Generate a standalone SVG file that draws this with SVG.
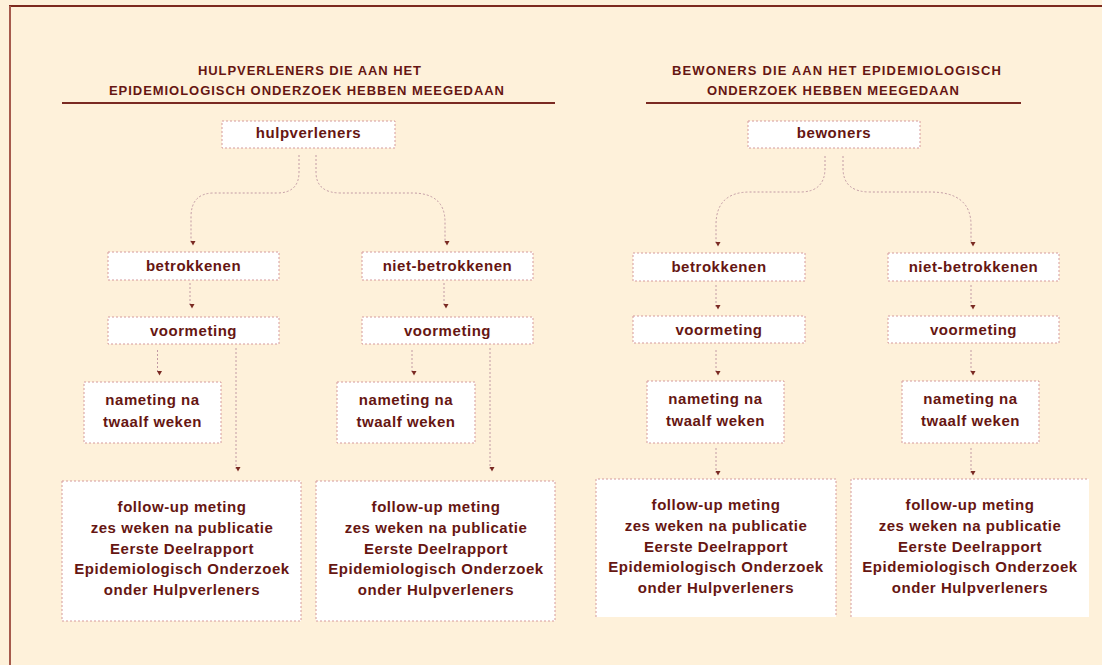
<svg xmlns="http://www.w3.org/2000/svg" width="1102" height="665" viewBox="0 0 1102 665">
<defs>
<style>
.box{fill:#ffffff;stroke:#d59a9c;stroke-width:1;stroke-dasharray:2 2}
.edge{fill:none;stroke:#c29aa4;stroke-width:1;stroke-dasharray:2 2}
.t{font-family:"Liberation Sans",Arial,sans-serif;font-weight:bold;font-size:15px;fill:#661612;text-anchor:middle;letter-spacing:0.55px}
.h{font-family:"Liberation Sans",Arial,sans-serif;font-weight:bold;font-size:13px;fill:#661612}
.rule{stroke:#7a2a22;stroke-width:2}
</style>
<marker id="arr" markerWidth="6" markerHeight="6" refX="3" refY="5" orient="auto" markerUnits="userSpaceOnUse" viewBox="0 0 6 6">
<path d="M0.5,1 L5.5,1 L3,5.5 Z" fill="#7a2a22" transform="rotate(-90 3 3)"/>
</marker>
</defs>
<rect x="0" y="0" width="1102" height="665" fill="#fef1da"/>
<line x1="9" y1="6" x2="1102" y2="6" stroke="#7d2a1e" stroke-width="2"/>
<line x1="10" y1="6" x2="10" y2="665" stroke="#a65a4c" stroke-width="2"/>

<g id="titles">
<text class="h" x="198" y="75" textLength="223" lengthAdjust="spacing">HULPVERLENERS DIE AAN HET</text>
<text class="h" x="109" y="95" textLength="395" lengthAdjust="spacing">EPIDEMIOLOGISCH ONDERZOEK HEBBEN MEEGEDAAN</text>
<line class="rule" x1="62" y1="103" x2="555" y2="103"/>
<text class="h" x="672" y="75" textLength="329" lengthAdjust="spacing">BEWONERS DIE AAN HET EPIDEMIOLOGISCH</text>
<text class="h" x="707" y="95" textLength="252" lengthAdjust="spacing">ONDERZOEK HEBBEN MEEGEDAAN</text>
<line class="rule" x1="646" y1="103" x2="1021" y2="103"/>
</g>

<g id="connectors">
<path class="edge" d="M299,155 L299,172 Q299,193 277,193 L214,193 Q191,193 191,217 L191,243" marker-end="url(#arr)"/>
<path class="edge" d="M316,155 L316,172 Q316,193 341,193 L412,193 Q445,193 445,222 L445,243" marker-end="url(#arr)"/>
<path class="edge" d="M190,283 L190,306" marker-end="url(#arr)"/>
<path class="edge" d="M444,283 L444,306" marker-end="url(#arr)"/>
<path class="edge" d="M157.5,350 L157.5,373" marker-end="url(#arr)"/>
<path class="edge" d="M412,350 L412,373" marker-end="url(#arr)"/>
<path class="edge" d="M236,348 L236,469" marker-end="url(#arr)"/>
<path class="edge" d="M490,348 L490,469" marker-end="url(#arr)"/>
<path class="edge" d="M825,156 L825,168 Q825,192 800,192 L750,192 Q716,192 716,225 L716,244" marker-end="url(#arr)"/>
<path class="edge" d="M843,156 L843,168 Q843,192 870,192 L930,192 Q971,192 971,225 L971,244" marker-end="url(#arr)"/>
<path class="edge" d="M716,285 L716,307" marker-end="url(#arr)"/>
<path class="edge" d="M971,285 L971,307" marker-end="url(#arr)"/>
<path class="edge" d="M716,350 L716,373" marker-end="url(#arr)"/>
<path class="edge" d="M971,350 L971,373" marker-end="url(#arr)"/>
<path class="edge" d="M716,448 L716,473" marker-end="url(#arr)"/>
<path class="edge" d="M971,448 L971,473" marker-end="url(#arr)"/>
</g>

<g id="n-hulpverleners"><rect class="box" x="222" y="121" width="173" height="27"/><text class="t" x="308.5" y="138">hulpverleners</text></g>
<g id="n-l-betrokkenen"><rect class="box" x="108" y="252" width="171" height="28"/><text class="t" x="193.5" y="271">betrokkenen</text></g>
<g id="n-l-niet"><rect class="box" x="362" y="252" width="171" height="28"/><text class="t" x="447.5" y="271">niet-betrokkenen</text></g>
<g id="n-l-voor1"><rect class="box" x="108" y="317" width="171" height="27"/><text class="t" x="193.5" y="336">voormeting</text></g>
<g id="n-l-voor2"><rect class="box" x="362" y="317" width="171" height="27"/><text class="t" x="447.5" y="336">voormeting</text></g>
<g id="n-l-na1"><rect class="box" x="84" y="382" width="137" height="61"/><text class="t" x="152.5" y="405">nameting na</text><text class="t" x="152.5" y="427">twaalf weken</text></g>
<g id="n-l-na2"><rect class="box" x="337" y="382" width="138" height="61"/><text class="t" x="406" y="405">nameting na</text><text class="t" x="406" y="427">twaalf weken</text></g>
<g id="n-l-fu1"><rect class="box" x="62" y="481" width="239" height="140"/>
<text class="t" x="182" y="512">follow-up meting</text><text class="t" x="182" y="533">zes weken na publicatie</text><text class="t" x="182" y="554">Eerste Deelrapport</text><text class="t" x="182" y="574">Epidemiologisch Onderzoek</text><text class="t" x="182" y="595">onder Hulpverleners</text></g>
<g id="n-l-fu2"><rect class="box" x="316" y="481" width="239" height="140"/>
<text class="t" x="436" y="512">follow-up meting</text><text class="t" x="436" y="533">zes weken na publicatie</text><text class="t" x="436" y="554">Eerste Deelrapport</text><text class="t" x="436" y="574">Epidemiologisch Onderzoek</text><text class="t" x="436" y="595">onder Hulpverleners</text></g>

<g id="n-bewoners"><rect class="box" x="748" y="121" width="172" height="27"/><text class="t" x="834" y="138">bewoners</text></g>
<g id="n-r-betrokkenen"><rect class="box" x="633" y="253" width="172" height="28"/><text class="t" x="719" y="272">betrokkenen</text></g>
<g id="n-r-niet"><rect class="box" x="888" y="253" width="171" height="28"/><text class="t" x="973.5" y="272">niet-betrokkenen</text></g>
<g id="n-r-voor1"><rect class="box" x="633" y="316" width="172" height="27"/><text class="t" x="719" y="335">voormeting</text></g>
<g id="n-r-voor2"><rect class="box" x="888" y="316" width="171" height="27"/><text class="t" x="973.5" y="335">voormeting</text></g>
<g id="n-r-na1"><rect class="box" x="647" y="381" width="137" height="62"/><text class="t" x="715.5" y="404">nameting na</text><text class="t" x="715.5" y="426">twaalf weken</text></g>
<g id="n-r-na2"><rect class="box" x="902" y="381" width="137" height="62"/><text class="t" x="970.5" y="404">nameting na</text><text class="t" x="970.5" y="426">twaalf weken</text></g>
<g id="n-r-fu1"><rect x="596" y="479" width="240" height="138" fill="#ffffff"/><path class="box" d="M596,617 L596,479 L836,479 L836,617" fill="none"/>
<text class="t" x="716" y="510">follow-up meting</text><text class="t" x="716" y="531">zes weken na publicatie</text><text class="t" x="716" y="552">Eerste Deelrapport</text><text class="t" x="716" y="572">Epidemiologisch Onderzoek</text><text class="t" x="716" y="593">onder Hulpverleners</text></g>
<g id="n-r-fu2"><rect x="851" y="479" width="238" height="138" fill="#ffffff"/><path class="box" d="M851,617 L851,479 L1089,479" fill="none"/>
<text class="t" x="970" y="510">follow-up meting</text><text class="t" x="970" y="531">zes weken na publicatie</text><text class="t" x="970" y="552">Eerste Deelrapport</text><text class="t" x="970" y="572">Epidemiologisch Onderzoek</text><text class="t" x="970" y="593">onder Hulpverleners</text></g>
</svg>
